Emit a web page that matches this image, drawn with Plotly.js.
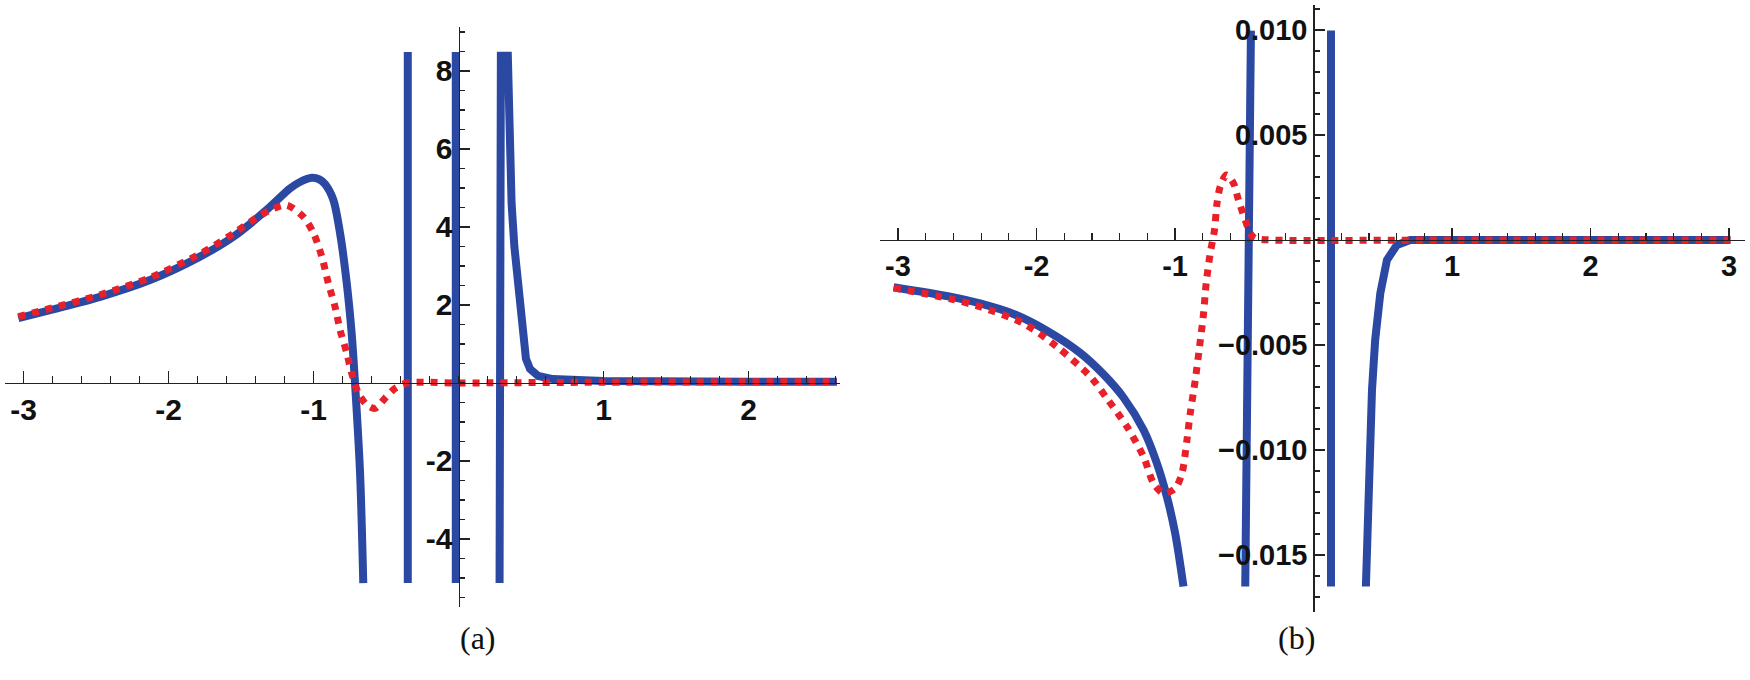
<!DOCTYPE html>
<html>
<head>
<meta charset="utf-8">
<script src="https://cdn.plot.ly/plotly-3.0.1.min.js"></script>
<style>
  html, body { margin: 0; padding: 0; background: #fff; }
  #chart { width: 1750px; height: 680px; }
</style>
</head>
<body>
<div id="chart"></div>
<script>
// ---- panel (a) ----
// smooth branch on the left
const aBlueCurveX = [-3.036, -2.817, -2.472, -2.128, -1.783, -1.553, -1.323, -1.162, -1.09, -1.012, -0.96, -0.921, -0.863, -0.817, -0.771, -0.737, -0.714, -0.679, -0.657];
const aBlueCurveY = [1.66, 1.87, 2.21, 2.64, 3.24, 3.75, 4.44, 4.99, 5.16, 5.26, 5.22, 5.10, 4.69, 3.84, 2.56, 1.27, 0, -2.32, -5.13];
// poles / clipped spike and the tail
const aBlueSpikeX = [-0.350, -0.350, null, -0.019, -0.019, null, 0.283, 0.292, 0.340, 0.345, 0.352, 0.366, 0.385, 0.403, 0.425, 0.44, 0.465, 0.493, 0.55, 0.65, 1.0, 2.0, 2.61];
const aBlueSpikeY = [8.49, -5.13, null, 8.49, -5.13, null, -5.13, 8.39, 8.39, 7.2, 5.9, 4.6, 3.5, 2.82, 1.75, 1.1, 0.62, 0.36, 0.18, 0.1, 0.05, 0.03, 0.03];
const aRedX = [-3.036, -2.817, -2.472, -2.128, -1.783, -1.553, -1.40, -1.28, -1.185, -1.07, -1.0, -0.943, -0.898, -0.852, -0.817, -0.771, -0.737, -0.691, -0.633, -0.576, -0.507, -0.438, -0.357, 0, 1, 2, 2.61];
const aRedY = [1.70, 1.91, 2.26, 2.70, 3.31, 3.83, 4.22, 4.47, 4.56, 4.26, 3.84, 3.24, 2.56, 1.96, 1.36, 0.77, 0.25, -0.26, -0.56, -0.65, -0.39, -0.14, 0, 0, 0.02, 0.03, 0.03];
const aXTicks = [-3, -2, -1, 1, 2];
const aYTicks = [-4, -2, 2, 4, 6, 8];

// ---- panel (b) ----
const bBlueCurveX = [-3.032, -2.623, -2.408, -2.166, -1.925, -1.684, -1.516, -1.372, -1.227, -1.131, -1.059, -0.999, -0.939];
const bBlueCurveY = [-0.00225, -0.0027, -0.00302, -0.00352, -0.00432, -0.00538, -0.0064, -0.0075, -0.00905, -0.01063, -0.01222, -0.01397, -0.0165];
const bBlueSpikeX = [-0.452, -0.464, -0.481, -0.493, null, 0.126, 0.126, null, 0.378, 0.393, 0.409, 0.422, 0.445, 0.482, 0.530, 0.602, 0.698, 1.5, 3.01];
const bBlueSpikeY = [0.00997, 0.0003, -0.01, -0.0165, null, 0.00997, -0.0165, null, -0.0165, -0.0127, -0.00952, -0.00714, -0.00476, -0.00254, -0.00095, -0.00024, 0, 0, 0];
const bRedX = [-3.032, -2.623, -2.408, -2.094, -1.853, -1.612, -1.492, -1.347, -1.227, -1.155, -1.083, -0.999, -0.950, -0.914, -0.890, -0.854, -0.823, -0.794, -0.775, -0.746, -0.715, -0.697, -0.674, -0.630, -0.578, -0.542, -0.493, -0.457, -0.421, -0.3, 1, 3.01];
const bRedY = [-0.00228, -0.0028, -0.00318, -0.00397, -0.00508, -0.0065, -0.00754, -0.00889, -0.01032, -0.01159, -0.01206, -0.01183, -0.01111, -0.00952, -0.00825, -0.00667, -0.00508, -0.00349, -0.00206, -0.00063, 0.00048, 0.00175, 0.00254, 0.0031, 0.0027, 0.0019, 0.00095, 0.00032, 0.00008, 0, 0, 0];
const bXTicks = [-3, -2, -1, 1, 2, 3];
const bYTicks = [-0.015, -0.010, -0.005, 0.005, 0.010];
const bYTickText = ["\u22120.015", "\u22120.010", "\u22120.005", "0.005", "0.010"];

const panelLabels = ["(a)", "(b)"];

const BLUE = "#2b48a3";
const RED = "#e8202a";
const W = 1750, H = 680;

const blueLine = { color: BLUE, width: 8 };
const redLine = { color: RED, width: 7, dash: "dot" };
const smooth = { shape: "spline", smoothing: 0.8 };

const traces = [
  { x: aBlueCurveX, y: aBlueCurveY, mode: "lines", line: Object.assign({}, smooth, blueLine), xaxis: "x", yaxis: "y" },
  { x: aBlueSpikeX, y: aBlueSpikeY, mode: "lines", line: blueLine, xaxis: "x", yaxis: "y" },
  { x: aRedX, y: aRedY, mode: "lines", line: Object.assign({}, smooth, redLine), xaxis: "x", yaxis: "y" },
  { x: bBlueCurveX, y: bBlueCurveY, mode: "lines", line: Object.assign({}, smooth, blueLine), xaxis: "x2", yaxis: "y2" },
  { x: bBlueSpikeX, y: bBlueSpikeY, mode: "lines", line: blueLine, xaxis: "x2", yaxis: "y2" },
  { x: bRedX, y: bRedY, mode: "lines", line: Object.assign({}, smooth, redLine), xaxis: "x2", yaxis: "y2" },
];

const tickFont = { family: "Liberation Sans, Arial, sans-serif", size: 30, color: "#111", weight: "bold" };

// axes cross at the origin, so every axis is "free" and placed in paper coords
function axisBase(extra) {
  return Object.assign({
    anchor: "free",
    showline: true, linecolor: "#222", linewidth: 1.4,
    showgrid: false, zeroline: false,
    ticks: "inside", tickcolor: "#222", tickwidth: 1.4,
    tickmode: "array",
    tickfont: tickFont,
    fixedrange: true,
  }, extra);
}

const layout = {
  width: W, height: H,
  margin: { l: 0, r: 0, t: 0, b: 0 },
  paper_bgcolor: "#fff",
  plot_bgcolor: "rgba(0,0,0,0)",
  showlegend: false,
  xaxis: axisBase({
    domain: [5 / W, 840 / W], range: [-3.128, 2.631],
    position: 1 - 383 / H, side: "bottom",
    tickvals: aXTicks, ticktext: aXTicks.map(String), ticklen: 12,
    minor: { tickmode: "linear", tick0: 0, dtick: 0.2, ticks: "inside", ticklen: 7, tickcolor: "#222", tickwidth: 1.2 },
  }),
  yaxis: axisBase({
    domain: [1 - 607 / H, 1 - 27 / H], range: [-5.744, 9.128],
    position: 458.5 / W, side: "left",
    tickvals: aYTicks, ticktext: aYTicks.map(String), ticklen: 10,
    minor: { tickmode: "linear", tick0: 0, dtick: 0.5, ticks: "inside", ticklen: 5, tickcolor: "#222", tickwidth: 1.2 },
  }),
  xaxis2: axisBase({
    domain: [880 / W, 1745 / W], range: [-3.13, 3.115],
    position: 1 - 240 / H, side: "bottom",
    tickvals: bXTicks, ticktext: bXTicks.map(String), ticklen: 12,
    tickfont: Object.assign({}, tickFont, { size: 29 }),
    minor: { tickmode: "linear", tick0: 0, dtick: 0.2, ticks: "inside", ticklen: 7, tickcolor: "#222", tickwidth: 1.2 },
  }),
  yaxis2: axisBase({
    domain: [1 - 611.7 / H, 1 - 5 / H], range: [-0.0177, 0.01119],
    position: 1313.3 / W, side: "left",
    tickvals: bYTicks, ticktext: bYTickText, ticklen: 10,
    tickfont: Object.assign({}, tickFont, { size: 29 }),
    minor: { tickmode: "linear", tick0: 0, dtick: 0.001, ticks: "inside", ticklen: 5, tickcolor: "#222", tickwidth: 1.2 },
  }),
  annotations: [
    { text: panelLabels[0], xref: "paper", yref: "paper", x: 458 / W, y: 1 - 658 / H, showarrow: false,
      font: { family: "Liberation Serif, Times New Roman, serif", size: 32, color: "#111" } },
    { text: panelLabels[1], xref: "paper", yref: "paper", x: 1317 / W, y: 1 - 658 / H, showarrow: false,
      font: { family: "Liberation Serif, Times New Roman, serif", size: 32, color: "#111" } },
  ],
};

Plotly.newPlot("chart", traces, layout, { displayModeBar: false, staticPlot: true });
</script>
</body>
</html>
